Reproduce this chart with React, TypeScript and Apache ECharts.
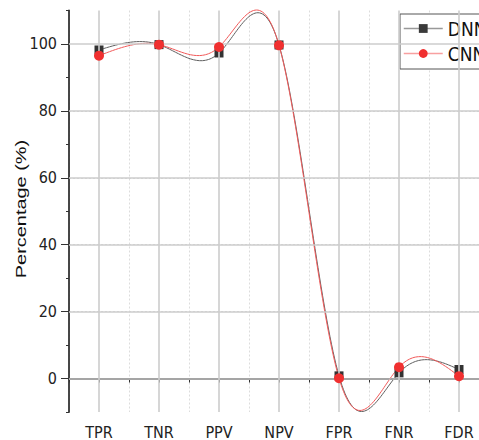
import React, { useEffect, useRef } from "react";
import * as echarts from "echarts";

const categories = ["TPR", "TNR", "PPV", "NPV", "FPR", "FNR", "FDR"];
const dnnValues = [98.2, 99.8, 97.3, 99.7, 0.8, 1.7, 2.7];
const cnnValues = [96.5, 99.8, 99.1, 99.6, 0.1, 3.4, 0.7];
const yMajorTicks = [0, 20, 40, 60, 80, 100];

// natural cubic spline second derivatives (unit spacing), as Origin's "Spline" connector
function splineM(y: number[]): number[] {
  const n = y.length;
  const M = new Array(n).fill(0);
  if (n < 3) return M;
  const c: number[] = [];
  const d: number[] = [];
  for (let i = 1; i < n - 1; i++) {
    const rhs = 6 * (y[i + 1] - 2 * y[i] + y[i - 1]);
    const prevC = i > 1 ? c[i - 2] : 0;
    const prevD = i > 1 ? d[i - 2] : 0;
    const denom = 4 - prevC;
    c.push(1 / denom);
    d.push((rhs - prevD) / denom);
  }
  for (let i = n - 2; i >= 1; i--) {
    M[i] = d[i - 1] - c[i - 1] * M[i + 1];
  }
  return M;
}

function splineSeries(name: string, values: number[], color: string, z: number) {
  const M = splineM(values);
  const n = values.length;
  return {
    name,
    type: "custom",
    data: values.map((v, i) => [i, v]),
    encode: { x: 0, y: 1 },
    silent: true,
    z,
    renderItem: (params: any, api: any) => {
      const i = params.dataIndex;
      if (i >= n - 1) return { type: "group", children: [] };
      const p0 = api.coord([i, values[i]]);
      const p1 = api.coord([i + 1, values[i + 1]]);
      const pts: number[][] = [];
      const N = 40;
      for (let k = 0; k <= N; k++) {
        const t = k / N;
        const u = 1 - t;
        const v =
          u * values[i] +
          t * values[i + 1] +
          ((u * u * u - u) * M[i]) / 6 +
          ((t * t * t - t) * M[i + 1]) / 6;
        const x = p0[0] + (p1[0] - p0[0]) * t;
        const yy = api.coord([i, v])[1];
        pts.push([x, yy]);
      }
      return {
        type: "polyline",
        shape: { points: pts },
        style: { stroke: color, lineWidth: 1, fill: null },
      };
    },
  };
}

export default function App() {
  const ref = useRef<HTMLDivElement>(null);
  useEffect(() => {
    if (!ref.current) return;
    const chart = echarts.init(ref.current, undefined, { renderer: "svg" });
    const narrow = "Liberation Sans Narrow, DejaVu Sans Condensed, Liberation Sans, Arial, sans-serif";
    const font = "Liberation Sans, Arial, sans-serif";
    chart.setOption({
      animation: false,
      backgroundColor: "#ffffff",
      grid: { left: 69, top: 10.5, width: 420, height: 402 },
      legend: {
        data: [
          {
            name: "DNN",
            itemStyle: { color: "#3a3a3a" },
            lineStyle: { color: "#999", width: 1.5, opacity: 1 },
          },
          {
            name: "CNN",
            itemStyle: { color: "#f03030" },
            lineStyle: { color: "#f8a0a0", width: 1.5, opacity: 1 },
          },
        ],
        orient: "vertical",
        left: 400,
        top: 14,
        itemWidth: 39,
        itemHeight: 11,
        itemGap: 6,
        padding: [5, 10, 6, 3],
        borderColor: "#555",
        borderWidth: 1,
        borderRadius: 0,
        backgroundColor: "#fff",
        textStyle: { fontFamily: narrow, fontSize: 19, color: "#111", lineHeight: 19 },
      },
      graphic: [
        {
          type: "text",
          x: 20.5,
          y: 209,
          rotation: Math.PI / 2,
          scaleX: 1.33,
          style: {
            text: "Percentage (%)",
            font: "15px " + font,
            fill: "#111",
            align: "center",
            verticalAlign: "middle",
          },
        },
      ],
      xAxis: [
        {
          type: "category",
          data: categories,
          boundaryGap: true,
          axisLine: { lineStyle: { color: "#333", width: 1.8 } },
          axisTick: { show: true, length: 4, lineStyle: { color: "#333" } },
          axisLabel: { fontFamily: narrow, fontSize: 16, color: "#222", margin: 12 },
          splitLine: { show: true, lineStyle: { color: "#dcdcdc", type: [2, 2], width: 1 } },
        },
        {
          type: "category",
          data: categories,
          position: "bottom",
          axisLine: { show: false },
          axisTick: { show: true, alignWithLabel: true, length: 4, lineStyle: { color: "#333" } },
          axisLabel: { show: false },
          splitLine: { show: false },
        },
      ],
      yAxis: [
        {
          type: "value",
          min: -10,
          max: 110,
          interval: 10,
          axisLine: { show: true, lineStyle: { color: "#333", width: 1.8 } },
          axisTick: { show: true, length: 8, customValues: yMajorTicks, lineStyle: { color: "#333" } },
          axisLabel: {
            fontFamily: narrow,
            fontSize: 16,
            color: "#222",
            margin: 12,
            customValues: yMajorTicks,
          },
          splitLine: {
            show: true,
            showMaxLine: false,
            lineStyle: { color: "#dcdcdc", type: [2, 2], width: 1 },
          },
        },
        {
          type: "value",
          min: -10,
          max: 110,
          interval: 10,
          position: "left",
          axisLine: { show: false },
          axisTick: { show: true, length: 3, lineStyle: { color: "#333" } },
          axisLabel: { show: false },
          splitLine: { show: false },
        },
      ],
      series: [
        {
          name: "grid",
          type: "line",
          data: dnnValues,
          symbol: "none",
          lineStyle: { opacity: 0 },
          silent: true,
          z: 1,
          markLine: {
            silent: true,
            symbol: "none",
            label: { show: false },
            lineStyle: { color: "#cccccc", type: "solid", width: 1.6 },
            data: [
              ...categories.map((c) => ({ xAxis: c })),
              ...yMajorTicks.map((v) => ({ yAxis: v })),
            ],
          },
        },
        splineSeries("DNN curve", dnnValues, "#606060", 2),
        splineSeries("CNN curve", cnnValues, "#f25a5a", 3),
        {
          name: "DNN",
          type: "line",
          data: dnnValues,
          symbol: "rect",
          symbolSize: 9,
          itemStyle: { color: "#333333" },
          lineStyle: { width: 0, opacity: 0 },
          z: 4,
        },
        {
          name: "CNN",
          type: "line",
          data: cnnValues,
          symbol: "circle",
          symbolSize: 10,
          itemStyle: { color: "#f03030" },
          lineStyle: { width: 0, opacity: 0 },
          z: 5,
        },
      ],
    });
    return () => chart.dispose();
  }, []);
  return (
    <div
      style={{ position: "fixed", left: 0, top: 0, width: 479, height: 440, overflow: "hidden" }}
    >
      <div ref={ref} style={{ width: 500, height: 440 }} />
    </div>
  );
}
